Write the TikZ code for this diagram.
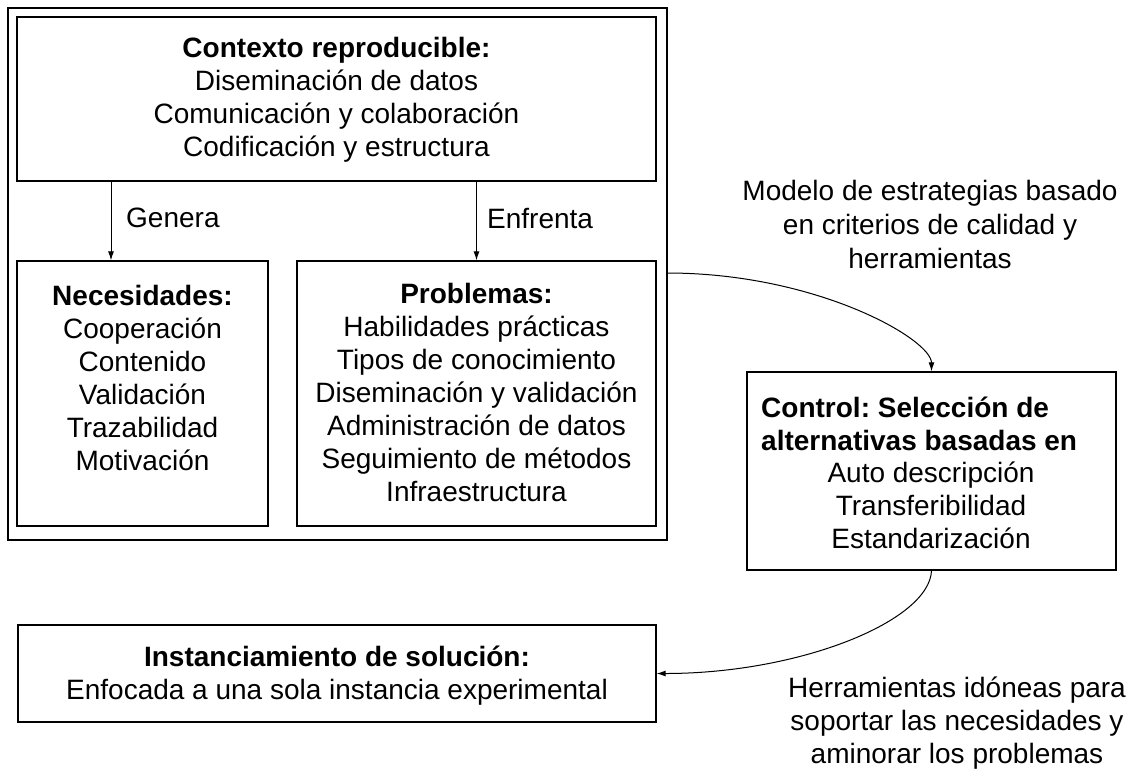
\documentclass[tikz,border=0pt]{standalone}
\usepackage{fontspec}
\setmainfont{Liberation Sans}
\usetikzlibrary{arrows.meta,calc}
\frenchspacing
\begin{document}
\begin{tikzpicture}[x=1pt,y=-1pt,
  box/.style={draw, line width=1.3pt, rectangle, inner sep=0pt},
  txt/.style={font=\fontsize{28}{33}\selectfont, align=center, inner sep=0pt},
  arr/.style={-{Latex[length=9pt,width=6pt]}, line width=1pt}]
\useasboundingbox[fill=white] (0,0) rectangle (1132,772);
% boxes
\node[box, minimum width=659pt, minimum height=532pt] (outer) at (337.5,274) {};
\node[box, minimum width=639pt, minimum height=164pt] (ctx) at (336.5,99) {};
\node[box, minimum width=251pt, minimum height=265pt] (nec) at (142.5,393.5) {};
\node[box, minimum width=359pt, minimum height=265pt] (prob) at (476.5,393.5) {};
\node[box, minimum width=369pt, minimum height=198pt] (ctrl) at (931.5,471) {};
\node[box, minimum width=638pt, minimum height=97pt] (inst) at (337,673.5) {};
% texts
\node[txt] (ctxT) at (336.5,99.5) {\textbf{Contexto reproducible:}\\Diseminación de datos\\Comunicación y colaboración\\Codificación y estructura};
\node[txt] (necT) at (142.5,377.5) {\textbf{Necesidades:}\\Cooperación\\Contenido\\Validación\\Trazabilidad\\Motivación};
\node[txt] (probT) at (476.5,392.5) {\textbf{Problemas:}\\Habilidades prácticas\\Tipos de conocimiento\\Diseminación y validación\\Administración de datos\\Seguimiento de métodos\\Infraestructura};
\node[txt, align=left, anchor=west] (ctrlB) at (761,424) {\textbf{Control: Selección de}\\\textbf{alternativas basadas en}};
\node[txt] (ctrlT) at (931,505) {Auto descripción\\Transferibilidad\\Estandarización};
\node[txt] (instT) at (337,676) {\textbf{Instanciamiento de solución:}\\Enfocada a una sola instancia experimental};
\node[txt, font=\fontsize{28}{34}\selectfont] (modelo) at (930,224) {Modelo de estrategias basado\\en criterios de calidad y\\herramientas};
\node[txt] (herr) at (957,723) {Herramientas idóneas para\\soportar las necesidades y\\aminorar los problemas};
\node[txt, anchor=west] (genera) at (126,218) {Genera};
\node[txt, anchor=west] (enfrenta) at (487,218) {Enfrenta};
% connectors
\coordinate (g) at (111,0);
\draw[arr] (ctx.south -| g) -- (nec.north -| g);
\draw[arr] (ctx.south -| prob.north) -- (prob.north);
\coordinate (c1) at (667,273);
\draw[arr] (c1) .. controls ($(c1)+(150,0)$) and ($(ctrl.north)+(0,-32)$) .. (ctrl.north);
\draw[arr] (ctrl.south) .. controls ($(ctrl.south)+(-2,50)$) and ($(inst.east)+(144,0)$) .. (inst.east);
\end{tikzpicture}
\end{document}
